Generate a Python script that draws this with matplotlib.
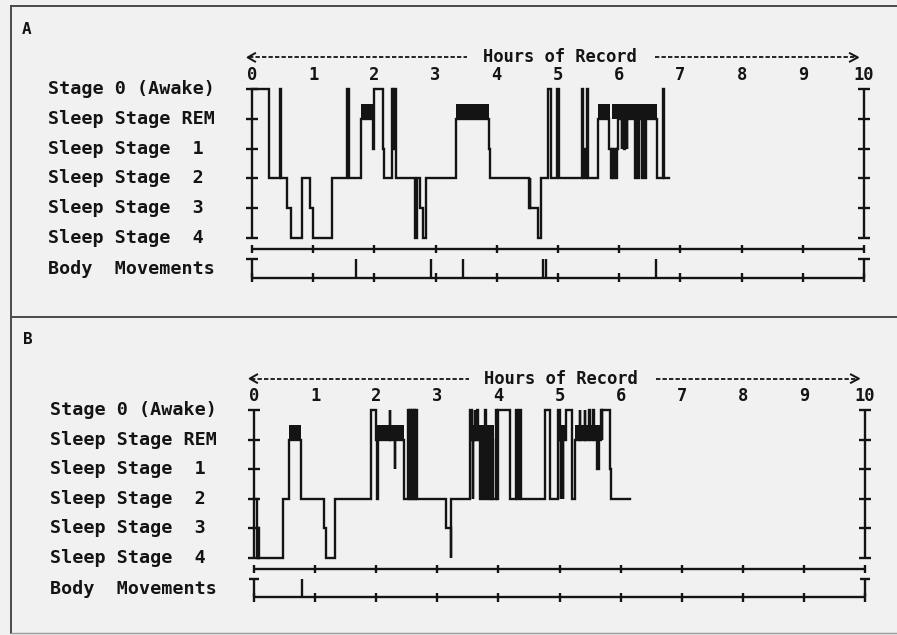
import matplotlib
matplotlib.use("Agg")
import matplotlib.pyplot as plt
from matplotlib.transforms import blended_transform_factory

# ---------------- data ----------------
stage_labels = ["Stage 0 (Awake)", "Sleep Stage REM", "Sleep Stage  1",
                "Sleep Stage  2", "Sleep Stage  3", "Sleep Stage  4"]
stage_codes = ["W", "R", "1", "2", "3", "4"]
movement_label = "Body  Movements"
axis_title = "Hours of Record"
hour_ticks = [0, 1, 2, 3, 4, 5, 6, 7, 8, 9, 10]
panel_names = ["A", "B"]

a_times = [0.00, 0.28, 0.46, 0.48, 0.57, 0.64, 0.81, 0.95, 0.99, 1.30,
           1.56, 1.59, 1.78, 1.98, 1.99, 2.14, 2.16, 2.28, 2.31, 2.32,
           2.35, 2.67, 2.70, 2.74, 2.79, 2.85, 3.33, 3.87, 3.89, 4.52,
           4.54, 4.55, 4.67, 4.72, 4.83, 4.88, 4.98, 5.02, 5.40, 5.41,
           5.43, 5.45, 5.47, 5.49, 5.66, 5.84, 5.86, 5.88, 5.90, 5.92,
           5.94, 5.96, 5.98, 6.04, 6.05, 6.08, 6.09, 6.12, 6.13, 6.26,
           6.28, 6.30, 6.33, 6.37, 6.39, 6.42, 6.44, 6.61, 6.71, 6.73]
a_stages = ["W", "2", "W", "2", "3", "4", "2", "3", "4", "2",
            "W", "2", "R", "1", "W", "1", "2", "W", "1", "W",
            "2", "4", "2", "3", "4", "2", "R", "1", "2", "3",
            "2", "3", "4", "2", "W", "2", "W", "2", "W", "2",
            "1", "2", "W", "2", "R", "1", "2", "1", "2", "1",
            "2", "1", "R", "1", "R", "1", "R", "1", "R", "2",
            "R", "2", "R", "2", "R", "2", "R", "2", "W", "2"]
a_end = 6.82
a_rem = [(1.78, 1.98), (3.33, 3.87), (5.66, 5.85), (5.88, 6.61)]
a_moves = [1.70, 2.92, 3.44, 4.76, 4.80, 6.60]

b_times = [0.00, 0.05, 0.07, 0.09, 0.47, 0.58, 0.77, 1.15, 1.18, 1.32,
           1.92, 2.00, 2.02, 2.03, 2.22, 2.23, 2.30, 2.31, 2.46, 2.52,
           2.54, 2.55, 2.57, 2.58, 2.60, 2.62, 2.64, 2.65, 2.67, 3.14,
           3.22, 3.23, 3.54, 3.56, 3.58, 3.59, 3.61, 3.62, 3.65, 3.66,
           3.70, 3.72, 3.74, 3.76, 3.78, 3.80, 3.82, 3.84, 3.86, 3.88,
           3.90, 3.91, 3.96, 3.97, 4.00, 4.19, 4.29, 4.31, 4.33, 4.37,
           4.77, 4.85, 4.98, 5.00, 5.02, 5.03, 5.05, 5.06, 5.10, 5.20,
           5.25, 5.33, 5.34, 5.41, 5.42, 5.49, 5.50, 5.55, 5.56, 5.62,
           5.65, 5.68, 5.69, 5.70, 5.82, 5.84]
b_stages = ["2", "4", "3", "4", "2", "R", "2", "3", "4", "2",
            "W", "R", "2", "R", "W", "R", "1", "R", "2", "W",
            "2", "W", "2", "W", "2", "W", "2", "W", "2", "3",
            "4", "2", "W", "R", "2", "R", "W", "R", "W", "R",
            "2", "R", "2", "R", "W", "2", "R", "2", "R", "2",
            "R", "2", "W", "2", "W", "2", "W", "2", "W", "2",
            "W", "2", "W", "R", "2", "R", "2", "R", "W", "2",
            "R", "W", "R", "W", "R", "W", "R", "W", "R", "1",
            "R", "W", "R", "W", "1", "2"]
b_end = 6.15
b_rem = [(0.58, 0.77), (2.00, 2.46), (3.54, 3.92), (4.99, 5.10), (5.25, 5.70)]
b_moves = [0.78]

# ---------------- style / layout ----------------
W, H = 897, 635
BG = "#f1f1f1"
INK = "#141414"
FONT = "DejaVu Sans Mono"
FS = 13.2
FS_AX = 12.3
LW = 1.7

fig = plt.figure(figsize=(W / 100, H / 100), dpi=100, facecolor=BG)


def fline(xs, ys, **kw):
    fig.add_artist(plt.Line2D([x / W for x in xs], [1 - y / H for y in ys],
                              transform=fig.transFigure, **kw))


frame_kw = dict(color="#4a4a4a", lw=1.4)
fline([11, W], [6, 6], **frame_kw)
fline([11, 11], [6, 633], **frame_kw)
fline([11, W], [317, 317], **frame_kw)
fline([11, W], [633, 633], color="#9a9a9a", lw=1.0)

panels = [
    dict(name=panel_names[0], times=a_times, stages=a_stages, end=a_end,
         rem=a_rem, moves=a_moves, x0=252, x10=864, yw=89, y4=238,
         label_x=48, name_xy=(27, 30)),
    dict(name=panel_names[1], times=b_times, stages=b_stages, end=b_end,
         rem=b_rem, moves=b_moves, x0=254, x10=865, yw=410, y4=558,
         label_x=50, name_xy=(28, 339)),
]

YLO, YHI = -2.0, 6.6
AX_LINE = -0.36
BM_TOP = -0.72
BM_BASE = -1.33
LBL_Y = 5.46
ARROW_Y = 6.06

for p in panels:
    step = (p["y4"] - p["yw"]) / 5.0
    top_px = p["yw"] - (YHI - 5) * step
    bot_px = p["y4"] - YLO * step
    ax = fig.add_axes([p["x0"] / W, 1 - bot_px / H,
                       (p["x10"] - p["x0"]) / W, (bot_px - top_px) / H])
    ax.set_xlim(0, 10)
    ax.set_ylim(YLO, YHI)
    ax.axis("off")
    ax.patch.set_alpha(0)

    level = {c: 5 - i for i, c in enumerate(stage_codes)}
    ys = [level[s] for s in p["stages"]]
    xs = list(p["times"]) + [p["end"]]
    ys = ys + [ys[-1]]
    ax.plot(xs, ys, drawstyle="steps-post", color=INK, lw=LW,
            solid_joinstyle="miter", clip_on=False)

    for s, e in p["rem"]:
        ax.bar(s, 0.48, width=e - s, bottom=level["R"], align="edge",
               color=INK, linewidth=0)

    ck = dict(color=INK, lw=LW, clip_on=False, solid_capstyle="butt")
    for xv in (hour_ticks[0], hour_ticks[-1]):
        ax.plot([xv, xv], [0, 5], **ck)
        for lv in range(6):
            ax.plot([xv - 0.1, xv + 0.1], [lv, lv], **ck)
        ax.plot([xv, xv], [BM_TOP, BM_BASE], **ck)
        ax.plot([xv - 0.09, xv + 0.09], [BM_TOP, BM_TOP], **ck)
    for yl in (AX_LINE, BM_BASE):
        ax.plot([hour_ticks[0], hour_ticks[-1]], [yl, yl], **ck)
        for h in hour_ticks:
            ax.plot([h, h], [yl - 0.14, yl + 0.14], **ck)

    for m in p["moves"]:
        ax.plot([m, m], [BM_BASE, BM_TOP + 0.02], **ck)

    for h in hour_ticks:
        ax.text(h, LBL_Y, str(h), ha="center", va="center", family=FONT,
                fontsize=FS_AX, fontweight="bold", color=INK)

    ax.text(5.03, ARROW_Y, axis_title, ha="center", va="center",
            family=FONT, fontsize=FS_AX, fontweight="bold", color=INK)
    dk = dict(color=INK, lw=1.3, dashes=(2.4, 1.2), clip_on=False)
    ax.plot([-0.05, 3.52], [ARROW_Y, ARROW_Y], **dk)
    ax.plot([6.58, 9.85], [ARROW_Y, ARROW_Y], **dk)
    hk = dict(color=INK, lw=1.4, clip_on=False)
    ax.plot([0.05, -0.07, 0.05], [ARROW_Y + 0.14, ARROW_Y, ARROW_Y - 0.14], **hk)
    ax.plot([9.77, 9.9, 9.77], [ARROW_Y + 0.14, ARROW_Y, ARROW_Y - 0.14], **hk)

    tr = blended_transform_factory(fig.transFigure, ax.transData)
    for i, lab in enumerate(stage_labels):
        ax.text(p["label_x"] / W, 5 - i, lab, transform=tr, ha="left",
                va="center", family=FONT, fontsize=FS, fontweight="bold",
                color=INK)
    ax.text(p["label_x"] / W, (BM_TOP + BM_BASE) / 2 - 0.02, movement_label,
            transform=tr, ha="left", va="center", family=FONT,
            fontsize=FS, fontweight="bold", color=INK)

    nx, ny = p["name_xy"]
    fig.text(nx / W, 1 - ny / H, p["name"], ha="center", va="center",
             family=FONT, fontsize=11.5, fontweight="bold", color=INK)

fig.savefig("out.png", dpi=100, facecolor=BG)
